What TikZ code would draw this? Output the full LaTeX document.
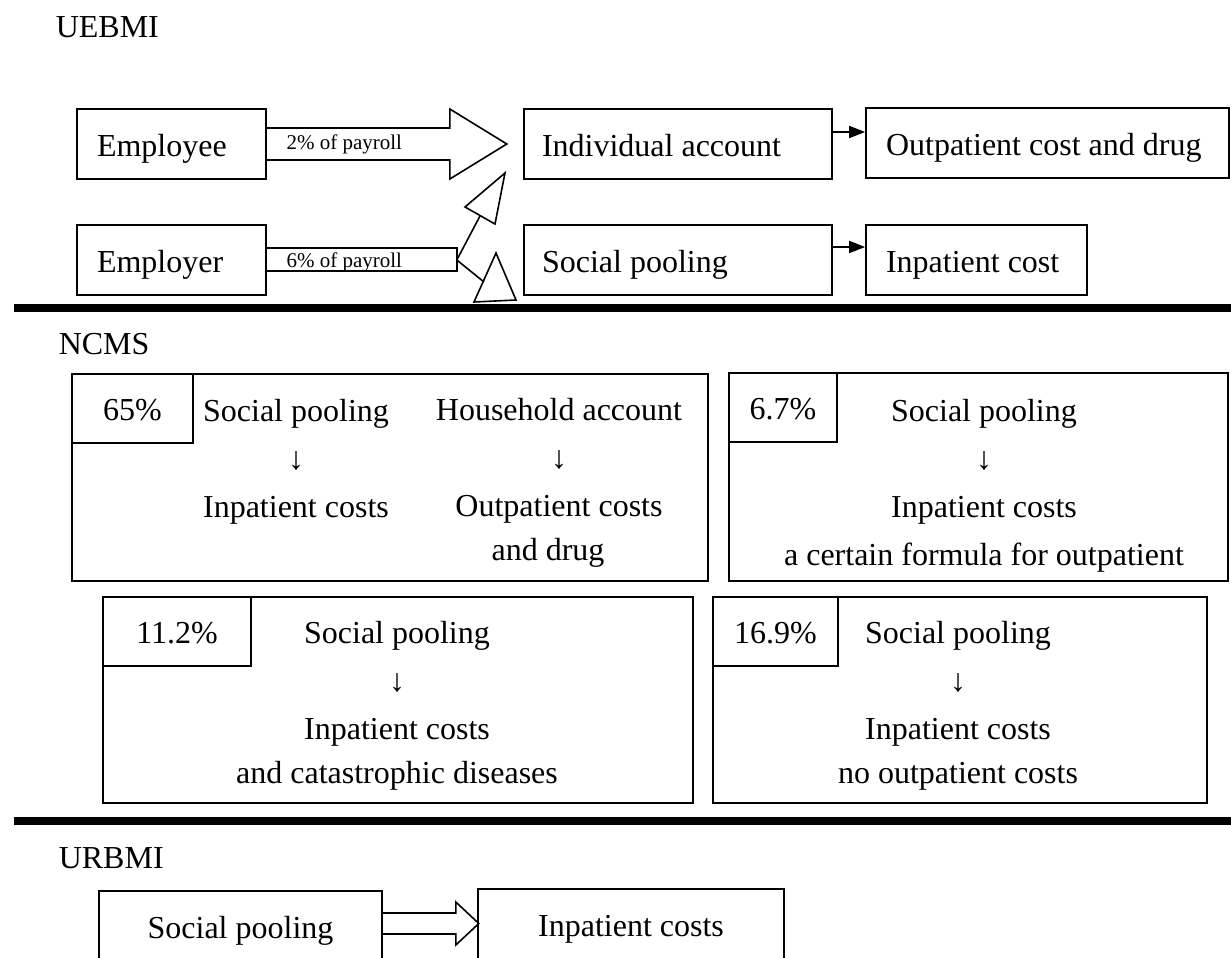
\documentclass[tikz,border=0pt]{standalone}
\usepackage{fontspec}
\setmainfont{Liberation Serif}
\usetikzlibrary{shapes,arrows.meta}
\newcommand{\leftbox}[2]{\makebox[#1][l]{#2}}

\begin{document}
\begin{tikzpicture}[x=0.5pt, y=-0.5pt, line width=0.8pt]
\tikzstyle{vertexc}=[rectangle, draw, inner sep=0pt, minimum height=35pt, text height=16pt, text depth=4pt, font=\fontsize{16}{24}\selectfont]
\tikzstyle{vertexb}=[rectangle, draw, inner sep=0pt]
\tikzstyle{vertext}=[vertexc, minimum height=34.5pt, anchor=north west]
\tikzstyle{textc}=[inner sep=0pt, anchor=base, align=center, font=\fontsize{16}{24}\selectfont]
\tikzstyle{labelt}=[inner sep=0pt, anchor=base west, font=\fontsize{16}{24}\selectfont]
\tikzstyle{smallt}=[inner sep=0pt, anchor=base west, font=\fontsize{10.5}{12}\selectfont]
\tikzstyle{drawstyle}=[-{Triangle[length=8pt, width=6pt]}]
\tikzstyle{fatstyle}=[line join=miter]
\tikzstyle{rulestyle}=[line width=4pt]

\useasboundingbox (0,0) rectangle (1231,958);

\node[labelt] (L0) at (55,38) {UEBMI};
\node[vertexc, minimum width=94.5pt] (G0x0) at (171.5,144) {\leftbox{74.5pt}{Employee}};
\node[vertexc, minimum width=94.5pt] (G0x1) at (171.5,260) {\leftbox{74.5pt}{Employer}};
\node[vertexc, minimum width=154pt] (G1x0) at (678,144) {\leftbox{136pt}{Individual account}};
\node[vertexc, minimum width=154pt] (G1x1) at (678,260) {\leftbox{136pt}{Social pooling}};
\node[vertexc, minimum width=181.5pt] (G2x0) at (1047.5,143) {\leftbox{161.5pt}{Outpatient cost and drug}};
\node[vertexc, minimum width=110.5pt] (G2x1) at (976.5,260) {\leftbox{90.5pt}{Inpatient cost}};

\draw[fatstyle] ([yshift=8pt]G0x0.east) -- ++(183,0) -- ++(0,-19) -- ++(57,35) -- ++(-57,35) -- ++(0,-19) -- ++(-183,0);
\node[smallt] (P0) at ([xshift=9.5pt, yshift=-2.5pt]G0x0.east) {2\% of payroll};
\draw[fatstyle] ([yshift=6pt]G0x1.east) -- ++(190,0) -- ++(0,23) -- ++(-190,0);
\node[smallt] (P1) at ([xshift=9.5pt, yshift=-3.5pt]G0x1.east) {6\% of payroll};

\coordinate (J0) at ([xshift=95pt]G0x1.east);
\coordinate (A0) at (480,216);
\coordinate (A1) at (484,282);
\draw (J0) -- (A0);
\draw[fatstyle] (465,207) -- (505,173) -- (495,224) -- cycle;
\draw (J0) -- (A1);
\draw[fatstyle] (496,253) -- (516,300) -- (474,302) -- cycle;

\draw[drawstyle] ([yshift=6pt]G1x0.east) -- ([yshift=6pt]G1x0.east -| G2x0.west);
\draw[drawstyle] ([yshift=6.5pt]G1x1.east) -- ([yshift=6.5pt]G1x1.east -| G2x1.west);

\draw[rulestyle] (14,308) -- (1231,308);
\draw[rulestyle] (14,820.5) -- (1231,820.5);

\node[labelt] (L1) at (58,354) {NCMS};
\node[vertexb, minimum width=318pt, minimum height=103.5pt] (N0x0) at (390,477.5) {};
\node[vertext, minimum width=60.5pt] (T0x0) at (N0x0.north west) {65\%};
\node[textc] (C0x0) at (296,517) {Social pooling\\↓\\Inpatient costs};
\node[textc] (C0x1) at (559,560) {Household account\\↓\\Outpatient costs\\[-2pt]and drug\kern11pt};

\node[vertexb, minimum width=249.5pt, minimum height=104pt] (N1x0) at (978.5,477) {};
\node[vertext, minimum width=54pt] (T1x0) at (N1x0.north west) {6.7\%};
\node[textc] (C1x0) at (984,565) {Social pooling\\↓\\Inpatient costs\\a certain formula for outpatient};

\node[vertexb, minimum width=295pt, minimum height=103pt] (N0x1) at (398,700) {};
\node[vertext, minimum width=74pt] (T0x1) at (N0x1.north west) {11.2\%};
\node[textc] (C2x0) at (397,783) {Social pooling\\↓\\Inpatient costs\\[-2pt]and catastrophic diseases};

\node[vertexb, minimum width=247pt, minimum height=103pt] (N1x1) at (960,700) {};
\node[vertext, minimum width=62.5pt] (T1x1) at (N1x1.north west) {16.9\%};
\node[textc] (C3x0) at (958,783) {Social pooling\\↓\\Inpatient costs\\[-2pt]no outpatient costs};

\node[labelt] (L2) at (58,868) {URBMI};
\node[vertexc, minimum width=141.5pt] (R0x0) at (240.5,926) {Social pooling};
\node[vertexc, minimum width=153pt] (R1x0) at (631,924) {Inpatient costs};
\draw[fatstyle] ([yshift=6.5pt]R0x0.east) -- ++(73,0) -- ++(0,-11) -- ++(23,21.5) -- ++(-23,21.5) -- ++(0,-11) -- ++(-73,0);
\end{tikzpicture}
\end{document}
